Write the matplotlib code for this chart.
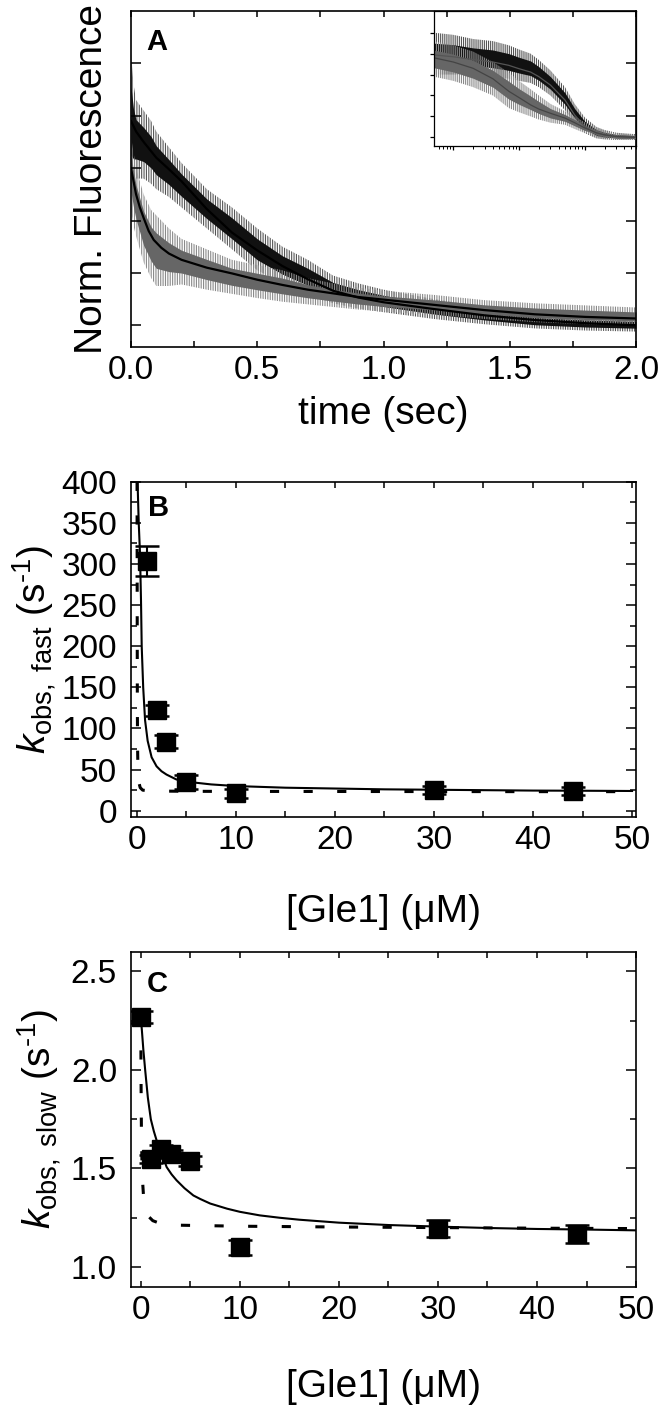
import numpy as np
import matplotlib.pyplot as plt
from matplotlib.ticker import MultipleLocator, LogLocator, NullFormatter

plt.rcParams['font.family'] = ['Liberation Sans', 'DejaVu Sans']
plt.rcParams['mathtext.fontset'] = 'custom'
plt.rcParams['mathtext.rm'] = 'Liberation Sans'
plt.rcParams['mathtext.it'] = 'Liberation Sans:italic'
plt.rcParams['hatch.linewidth'] = 0.8

# ---- Panel A : stopped-flow traces (envelopes of the noisy traces)
t_band = [0, 0.01, 0.02, 0.05, 0.08, 0.1, 0.15, 0.2, 0.3, 0.4, 0.5, 0.6, 0.7,
          0.8, 0.9, 1.0, 1.2, 1.4, 1.6, 1.8, 2.0]
black_hi = [5.2, 4.6, 4.3, 4.1, 3.9, 3.7, 3.4, 3.1, 2.6, 2.25, 1.85, 1.5, 1.25,
            0.95, 0.8, 0.68, 0.5, 0.35, 0.22, 0.17, 0.14]
black_lo = [2.6, 2.7, 2.8, 2.8, 2.7, 2.6, 2.45, 2.25, 1.85, 1.45, 1.05, 0.8, 0.6,
            0.42, 0.32, 0.25, 0.12, 0.02, -0.06, -0.1, -0.12]
gray_hi = [3.6, 3.3, 3.0, 2.5, 2.2, 2.1, 1.85, 1.65, 1.45, 1.25, 1.15, 1.05, 0.9,
           0.8, 0.72, 0.66, 0.58, 0.48, 0.42, 0.38, 0.34]
gray_lo = [2.2, 1.9, 1.7, 1.2, 0.9, 0.75, 0.75, 0.78, 0.68, 0.6, 0.52, 0.45, 0.4,
           0.35, 0.3, 0.26, 0.2, 0.12, 0.06, 0.02, 0.0]

# fitted curves
t_fit_black = [0, 0.02, 0.05, 0.1, 0.15, 0.2, 0.3, 0.4, 0.5, 0.6, 0.7, 0.8, 0.9,
               1.0, 1.2, 1.4, 1.6, 1.8, 2.0]
fit_black = [3.9, 3.7, 3.5, 3.2, 2.98, 2.75, 2.22, 1.77, 1.43, 1.13, 0.88, 0.66,
             0.53, 0.44, 0.31, 0.19, 0.1, 0.04, 0.0]
t_fit_gray = [0, 0.01, 0.02, 0.035, 0.05, 0.07, 0.09, 0.12, 0.15, 0.2, 0.3, 0.4,
              0.5, 0.6, 0.7, 0.8, 0.9, 1.0, 1.2, 1.4, 1.6, 1.8, 2.0]
fit_gray = [3.0, 2.75, 2.5, 2.25, 2.05, 1.8, 1.63, 1.48, 1.37, 1.25, 1.1, 0.99,
            0.87, 0.77, 0.68, 0.61, 0.54, 0.49, 0.39, 0.29, 0.21, 0.16, 0.13]

# inset (log time axis)
t_inset = [0.0051, 0.01, 0.02, 0.04, 0.07, 0.1, 0.15, 0.2, 0.3, 0.5, 0.7, 1.0,
           1.5, 2, 3, 6]
in_black_fit = [3.94, 3.85, 3.72, 3.6, 3.44, 3.28, 3.12, 2.9, 2.5, 1.78, 1.07,
                0.51, 0.19, 0.11, 0.03, 0.0]
in_black_hi = [5.0, 4.9, 4.7, 4.6, 4.4, 4.2, 4.0, 3.7, 3.2, 2.4, 1.6, 0.95,
               0.5, 0.35, 0.22, 0.15]
in_black_lo = [3.0, 3.0, 3.0, 2.9, 2.8, 2.7, 2.6, 2.4, 2.0, 1.3, 0.7, 0.2,
               -0.05, -0.1, -0.12, -0.12]
in_gray_fit = [3.8, 3.6, 3.3, 2.8, 2.2, 1.9, 1.55, 1.35, 1.15, 0.92, 0.7, 0.45,
               0.22, 0.12, 0.04, 0.0]
in_gray_hi = [4.6, 4.4, 4.1, 3.6, 3.1, 2.7, 2.3, 2.0, 1.6, 1.25, 1.0, 0.72,
              0.42, 0.3, 0.2, 0.1]
in_gray_lo = [2.9, 2.7, 2.4, 2.0, 1.4, 1.2, 1.0, 0.85, 0.7, 0.6, 0.4, 0.2,
              0.05, -0.05, -0.1, -0.1]

# ---- Panel B : k_obs fast
gle1_fast = [1, 2, 3, 5, 10, 30, 44]
k_fast = [304, 122, 84, 35, 21, 25, 24]
k_fast_err = [18, 7, 8, 8, 5, 5, 5]
xb_solid = [0.08, 0.2, 0.33, 0.43, 0.5, 0.65, 0.84, 1.1, 1.5, 2.0, 2.5, 3.0, 4.0,
            5.0, 6.0, 7.5, 10, 12.5, 15, 20, 25, 30, 35, 40, 45, 50]
yb_solid = [400, 350, 312, 255, 200, 150, 110, 85, 65, 54, 48, 44, 38, 36, 34,
            32, 30, 29, 28, 27, 26, 25.5, 25, 24.5, 24.3, 24]
xb_dash = [0.03, 0.04, 0.05, 0.06, 0.08, 0.12, 0.2, 0.35, 0.6, 1.5, 5, 10, 20,
           30, 40, 50]
yb_dash = [400, 300, 200, 130, 80, 50, 35, 28, 25, 24, 23.6, 23.5, 23.4, 23.3,
           23.2, 23.2]

# ---- Panel C : k_obs slow
gle1_slow = [0, 1, 2, 3, 5, 10, 30, 44]
k_slow = [2.267, 1.546, 1.60, 1.575, 1.54, 1.10, 1.195, 1.169]
k_slow_err = [0.03, 0.02, 0.02, 0.02, 0.025, 0.037, 0.044, 0.045]
xc_solid = [0, 0.1, 0.25, 0.43, 0.7, 1.0, 1.3, 1.6, 2.1, 2.6, 3.1, 3.6, 4.4, 5.3,
            6, 7, 8.7, 10, 12, 14, 16, 20, 25, 30, 35, 40, 45, 50]
yc_solid = [2.26, 2.2, 2.1, 2.0, 1.86, 1.75, 1.69, 1.64, 1.575, 1.507, 1.47,
            1.44, 1.4, 1.363, 1.345, 1.322, 1.296, 1.28, 1.262, 1.25, 1.24,
            1.225, 1.213, 1.205, 1.198, 1.193, 1.19, 1.186]
xc_dash = [-0.02, 0.0, 0.02, 0.05, 0.1, 0.15, 0.25, 0.4, 0.7, 1.2, 2, 4, 10, 20,
           30, 40, 50]
yc_dash = [2.27, 2.1, 1.9, 1.7, 1.55, 1.45, 1.37, 1.31, 1.26, 1.235, 1.22, 1.212,
           1.207, 1.203, 1.2, 1.197, 1.195]


def style_axes(ax):
    ax.tick_params(which='both', direction='in', top=True, right=True,
                   labelsize=24, width=1.1)
    ax.tick_params(axis='x', which='both', length=4.5, pad=6)
    ax.tick_params(axis='y', which='major', length=7, pad=10)
    ax.tick_params(axis='y', which='minor', length=4.5)
    for s in ax.spines.values():
        s.set_linewidth(1.2)


def band(ax, x, lo, hi, outer, inner, hatch):
    # noisy trace drawn as its envelope: hatched fringe + solid core
    lo = np.array(lo)
    hi = np.array(hi)
    w = hi - lo
    ax.fill_between(x, lo, hi, facecolor='none', edgecolor=outer, lw=0,
                    hatch=hatch)
    ax.fill_between(x, lo + 0.25 * w, hi - 0.25 * w, color=inner, lw=0)


fig = plt.figure(figsize=(6.63, 14.05), dpi=100)

# Panel A
axA = fig.add_axes([0.1976, 0.7530, 0.7617, 0.2392])
band(axA, t_band, black_lo, black_hi, '#555555', '#111111', '|||||||')
band(axA, t_band, gray_lo, gray_hi, '#8a8a8a', '#666666', '|||||||')
axA.plot(t_fit_black, fit_black, color='black', lw=1.6)
axA.plot(t_fit_gray, fit_gray, color='black', lw=1.6)
axA.set_xlim(0, 2.0)
axA.set_ylim(-0.415, 6.0)
axA.xaxis.set_major_locator(MultipleLocator(0.5))
axA.xaxis.set_minor_locator(MultipleLocator(0.25))
axA.set_yticks([0, 1, 2, 3, 4, 5])
axA.set_yticklabels([])
axA.xaxis.set_major_formatter(plt.FormatStrFormatter('%.1f'))
style_axes(axA)
axA.set_xlabel('time (sec)', fontsize=28)
axA.xaxis.label.set_va('center')
axA.xaxis.set_label_coords(0.5, -0.2)
axA.set_ylabel('Norm. Fluorescence', fontsize=28)
axA.yaxis.label.set_va('center')
axA.yaxis.set_label_coords(-0.077, 0.5)
axA.text(0.031, 0.908, 'A', transform=axA.transAxes, fontsize=21,
         fontweight='bold', ha='left', va='center')

# inset
axI = fig.add_axes([0.6546, 0.8963, 0.3047, 0.0959])
axI.patch.set_alpha(0)
band(axI, t_inset, in_black_lo, in_black_hi, '#555555', '#111111', '||||||||')
band(axI, t_inset, in_gray_lo, in_gray_hi, '#8a8a8a', '#666666', '||||||||')
axI.plot(t_inset, in_black_fit, color='#555555', lw=0.9)
axI.plot(t_inset, in_gray_fit, color='#444444', lw=0.9)
axI.set_xscale('log')
axI.set_xlim(0.0051, 6.0)
axI.set_ylim(-0.4, 6.04)
axI.set_yticks([0, 1, 2, 3, 4, 5])
axI.set_yticklabels([])
axI.xaxis.set_major_locator(LogLocator(base=10))
axI.xaxis.set_minor_locator(LogLocator(base=10, subs=np.arange(2, 10)))
axI.xaxis.set_major_formatter(NullFormatter())
axI.xaxis.set_minor_formatter(NullFormatter())
axI.tick_params(which='major', direction='out', length=3, width=0.9)
axI.tick_params(which='minor', direction='out', length=1.8, width=0.7)
for s in axI.spines.values():
    s.set_linewidth(0.9)

# Panel B
axB = fig.add_axes([0.1976, 0.4187, 0.7617, 0.2384])
axB.plot(xb_dash, yb_dash, color='black', lw=2.2, ls=(0, (3, 8)))
axB.plot(xb_solid, yb_solid, color='black', lw=1.5)
axB.errorbar(gle1_fast, k_fast, yerr=k_fast_err, fmt='s', color='black',
             ms=13, capsize=8.5, capthick=1.8, elinewidth=1.5, zorder=3)
axB.set_xlim(-0.58, 50.4)
axB.set_ylim(-7.3, 400)
axB.xaxis.set_major_locator(MultipleLocator(10))
axB.xaxis.set_minor_locator(MultipleLocator(5))
axB.yaxis.set_major_locator(MultipleLocator(50))
axB.yaxis.set_minor_locator(MultipleLocator(25))
style_axes(axB)
axB.set_xlabel('[Gle1] (\u03bcM)', fontsize=28)
axB.xaxis.label.set_va('center')
axB.xaxis.set_label_coords(0.5, -0.2845)
axB.set_ylabel(r'$k_{\mathrm{obs,\ fast}}$ (s$^{\text{-1}}$)', fontsize=28)
axB.yaxis.label.set_va('center')
axB.yaxis.set_label_coords(-0.192, 0.5)
axB.text(0.034, 0.921, 'B', transform=axB.transAxes, fontsize=21,
         fontweight='bold', ha='left', va='center')

# Panel C
axC = fig.add_axes([0.1976, 0.0842, 0.7617, 0.2384])
axC.plot(xc_dash, yc_dash, color='black', lw=2.2, ls=(0, (3, 8)))
axC.plot(xc_solid, yc_solid, color='black', lw=1.5)
axC.errorbar(gle1_slow, k_slow, yerr=k_slow_err, fmt='s', color='black',
             ms=12.5, capsize=8.5, capthick=1.8, elinewidth=1.5, zorder=3)
axC.set_xlim(-1.0, 50)
axC.set_ylim(0.9, 2.6)
axC.xaxis.set_major_locator(MultipleLocator(10))
axC.xaxis.set_minor_locator(MultipleLocator(5))
axC.yaxis.set_major_locator(MultipleLocator(0.5))
axC.yaxis.set_minor_locator(MultipleLocator(0.25))
axC.yaxis.set_major_formatter(plt.FormatStrFormatter('%.1f'))
style_axes(axC)
axC.set_xlabel('[Gle1] (\u03bcM)', fontsize=28)
axC.xaxis.label.set_va('center')
axC.xaxis.set_label_coords(0.5, -0.299)
axC.set_ylabel(r'$k_{\mathrm{obs,\ slow}}$ (s$^{\text{-1}}$)', fontsize=28)
axC.yaxis.label.set_va('center')
axC.yaxis.set_label_coords(-0.182, 0.5)
axC.text(0.032, 0.905, 'C', transform=axC.transAxes, fontsize=21,
         fontweight='bold', ha='left', va='center')

fig.savefig('out.png', dpi=100)
